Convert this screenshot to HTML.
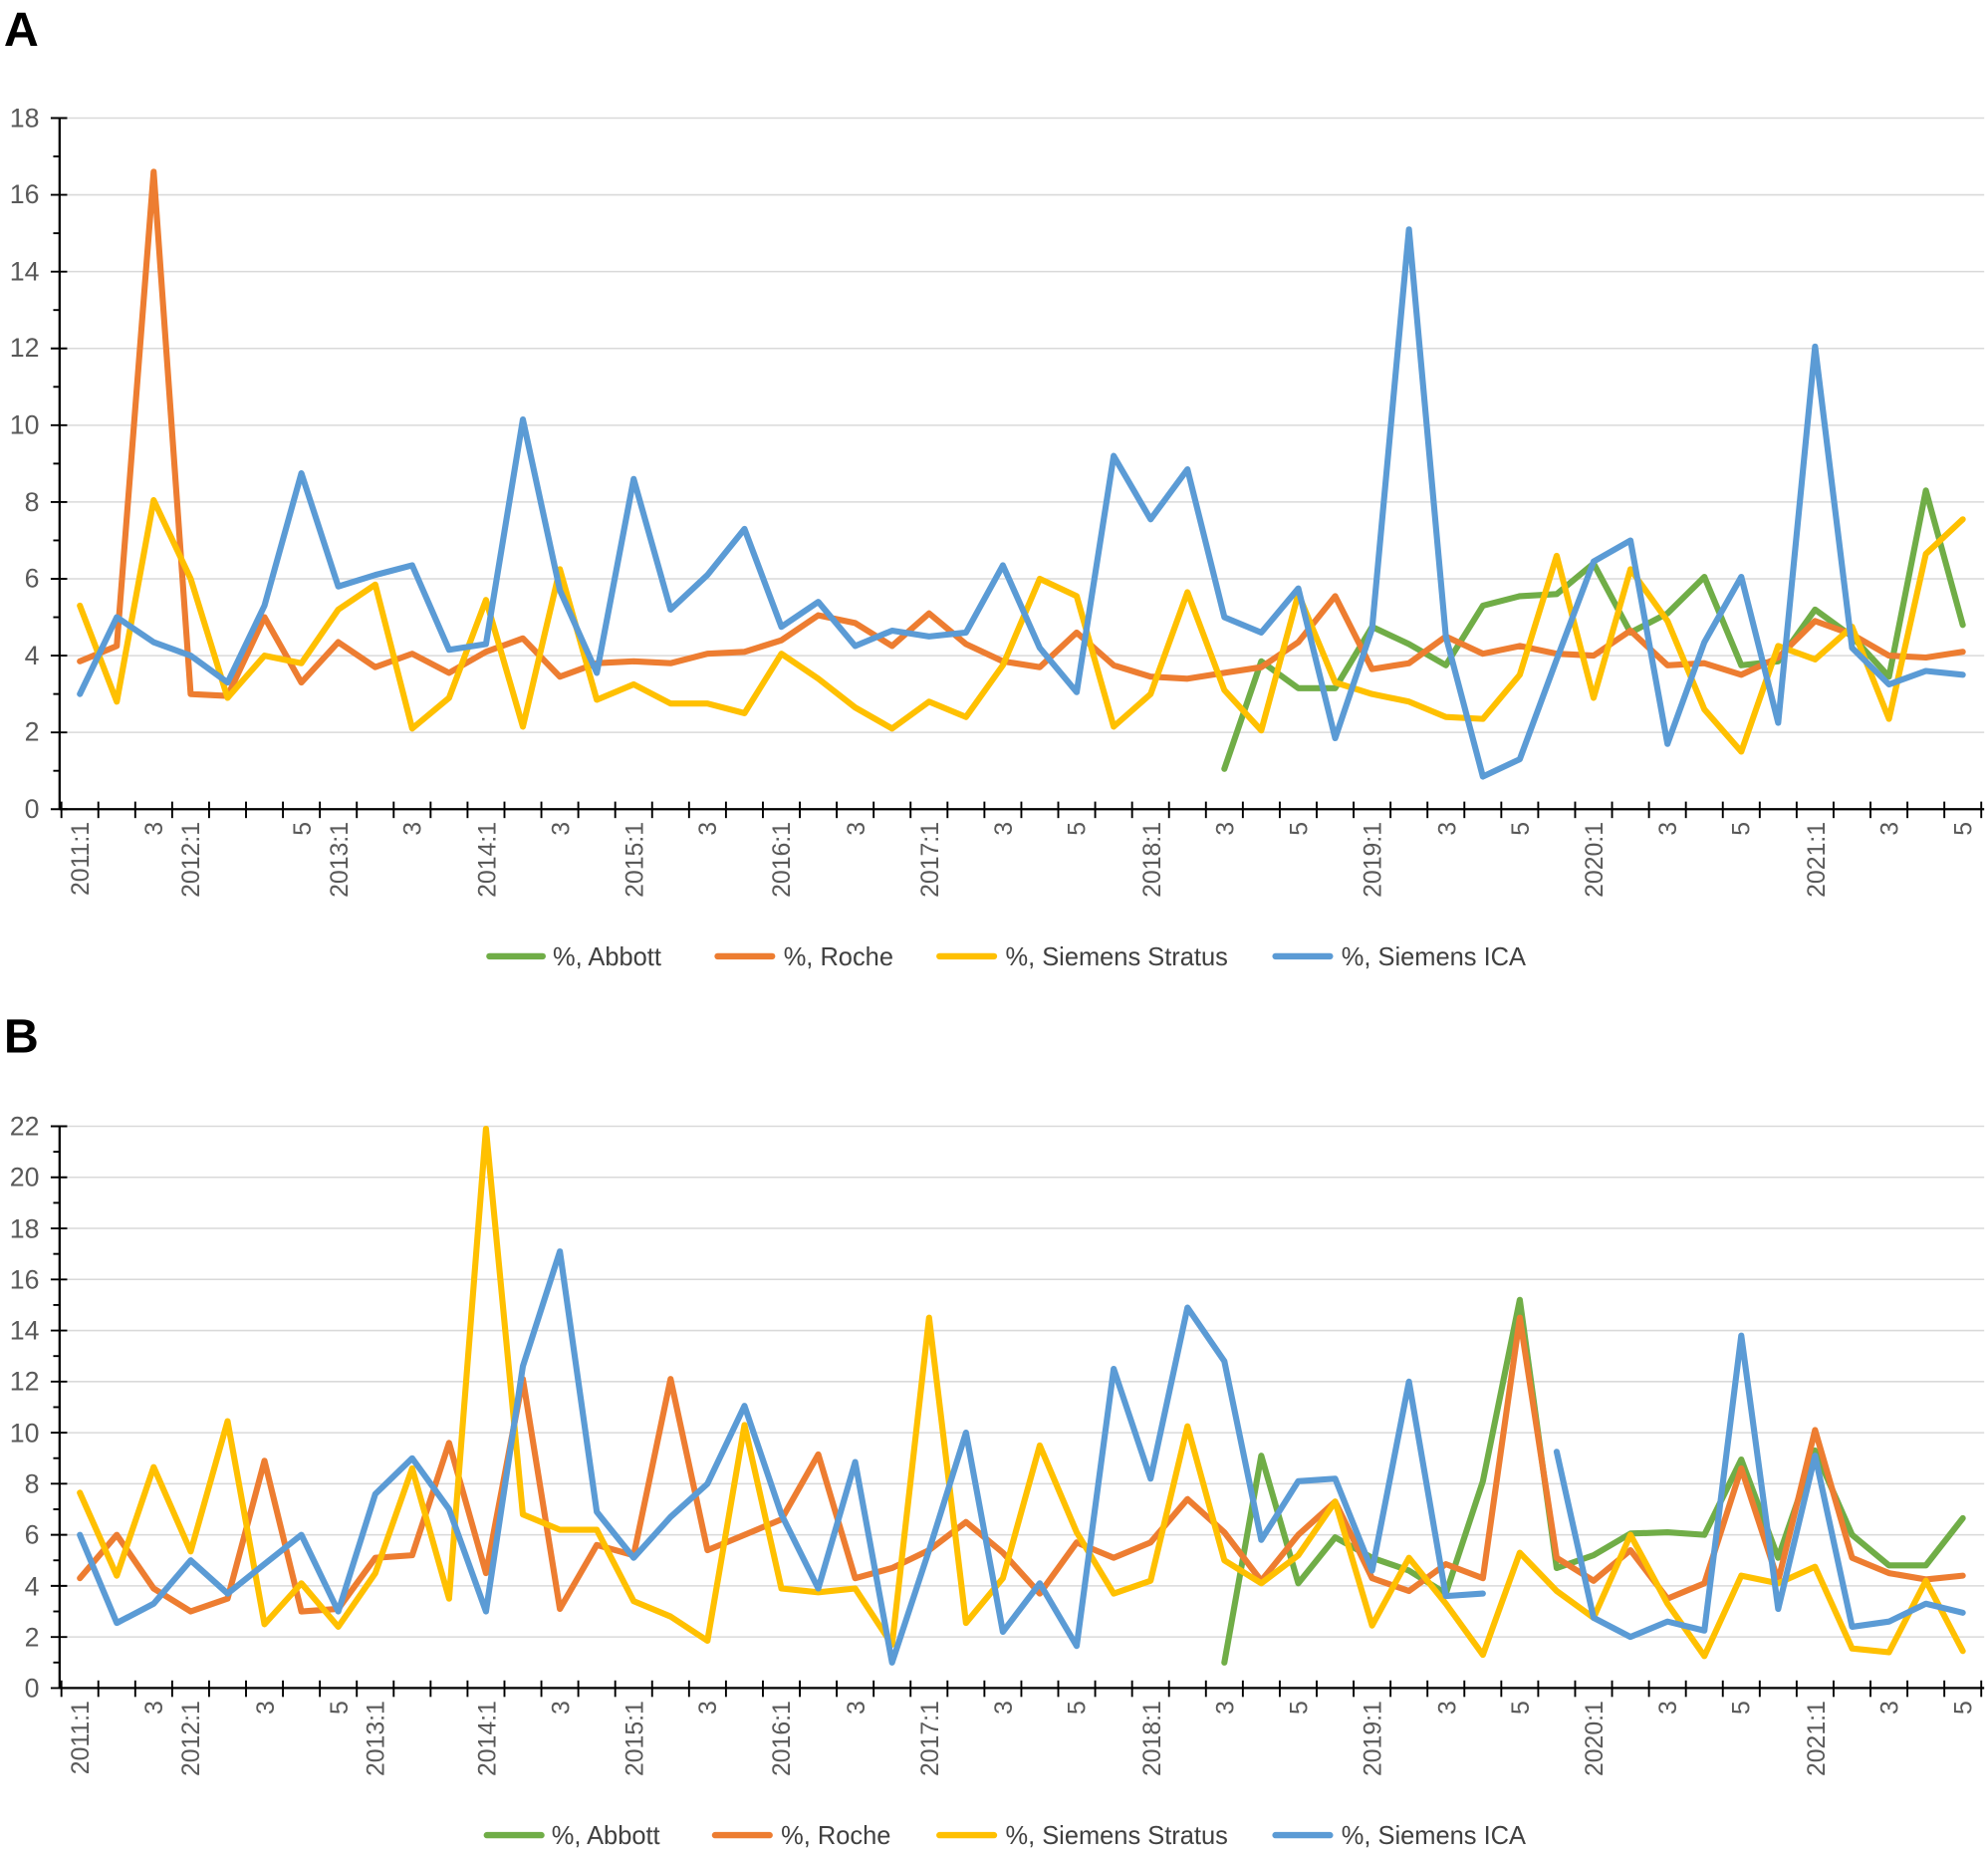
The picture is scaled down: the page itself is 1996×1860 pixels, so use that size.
<!DOCTYPE html>
<html><head><meta charset="utf-8"><style>
html,body{margin:0;padding:0;background:#fff}
svg{display:block}
text{font-family:"Liberation Sans",sans-serif;fill:#595959}
.yl{font-size:21px;text-anchor:end}
.xl{font-size:19.5px;text-anchor:end}
.lg{font-size:20px;fill:#404040}
.big{font-size:38px;font-weight:bold;fill:#000}
</style></head><body>
<svg id="s" width="1996" height="1860" viewBox="0 0 1568 1461" xmlns="http://www.w3.org/2000/svg">
<text class="big" x="3" y="36">A</text>
<text class="big" x="3" y="830">B</text>
<g id="axA"></g><g id="axB"></g>
<g>
<text class="yl" x="31" y="645">0</text><text class="yl" x="31" y="584">2</text><text class="yl" x="31" y="524">4</text><text class="yl" x="31" y="463">6</text><text class="yl" x="31" y="403">8</text><text class="yl" x="31" y="342">10</text><text class="yl" x="31" y="281">12</text><text class="yl" x="31" y="221">14</text><text class="yl" x="31" y="160">16</text><text class="yl" x="31" y="100">18</text>
</g>
<g>
<text class="yl" x="31" y="1338">0</text><text class="yl" x="31" y="1298">2</text><text class="yl" x="31" y="1258">4</text><text class="yl" x="31" y="1217">6</text><text class="yl" x="31" y="1177">8</text><text class="yl" x="31" y="1137">10</text><text class="yl" x="31" y="1096">12</text><text class="yl" x="31" y="1056">14</text><text class="yl" x="31" y="1016">16</text><text class="yl" x="31" y="976">18</text><text class="yl" x="31" y="935">20</text><text class="yl" x="31" y="895">22</text>
</g>
<g>
<text class="xl" transform="translate(70,648) rotate(-90)">2011:1</text>
<text class="xl" transform="translate(128,648) rotate(-90)">3</text>
<text class="xl" transform="translate(157,648) rotate(-90)">2012:1</text>
<text class="xl" transform="translate(245,648) rotate(-90)">5</text>
<text class="xl" transform="translate(274,648) rotate(-90)">2013:1</text>
<text class="xl" transform="translate(332,648) rotate(-90)">3</text>
<text class="xl" transform="translate(391,648) rotate(-90)">2014:1</text>
<text class="xl" transform="translate(449,648) rotate(-90)">3</text>
<text class="xl" transform="translate(507,648) rotate(-90)">2015:1</text>
<text class="xl" transform="translate(565,648) rotate(-90)">3</text>
<text class="xl" transform="translate(623,648) rotate(-90)">2016:1</text>
<text class="xl" transform="translate(682,648) rotate(-90)">3</text>
<text class="xl" transform="translate(740,648) rotate(-90)">2017:1</text>
<text class="xl" transform="translate(798,648) rotate(-90)">3</text>
<text class="xl" transform="translate(856,648) rotate(-90)">5</text>
<text class="xl" transform="translate(915,648) rotate(-90)">2018:1</text>
<text class="xl" transform="translate(973,648) rotate(-90)">3</text>
<text class="xl" transform="translate(1031,648) rotate(-90)">5</text>
<text class="xl" transform="translate(1089,648) rotate(-90)">2019:1</text>
<text class="xl" transform="translate(1148,648) rotate(-90)">3</text>
<text class="xl" transform="translate(1206,648) rotate(-90)">5</text>
<text class="xl" transform="translate(1264,648) rotate(-90)">2020:1</text>
<text class="xl" transform="translate(1322,648) rotate(-90)">3</text>
<text class="xl" transform="translate(1380,648) rotate(-90)">5</text>
<text class="xl" transform="translate(1439,648) rotate(-90)">2021:1</text>
<text class="xl" transform="translate(1497,648) rotate(-90)">3</text>
<text class="xl" transform="translate(1555,648) rotate(-90)">5</text>
</g>
<g>
<text class="xl" transform="translate(70,1341) rotate(-90)">2011:1</text>
<text class="xl" transform="translate(128,1341) rotate(-90)">3</text>
<text class="xl" transform="translate(157,1341) rotate(-90)">2012:1</text>
<text class="xl" transform="translate(216,1341) rotate(-90)">3</text>
<text class="xl" transform="translate(274,1341) rotate(-90)">5</text>
<text class="xl" transform="translate(303,1341) rotate(-90)">2013:1</text>
<text class="xl" transform="translate(391,1341) rotate(-90)">2014:1</text>
<text class="xl" transform="translate(449,1341) rotate(-90)">3</text>
<text class="xl" transform="translate(507,1341) rotate(-90)">2015:1</text>
<text class="xl" transform="translate(565,1341) rotate(-90)">3</text>
<text class="xl" transform="translate(623,1341) rotate(-90)">2016:1</text>
<text class="xl" transform="translate(682,1341) rotate(-90)">3</text>
<text class="xl" transform="translate(740,1341) rotate(-90)">2017:1</text>
<text class="xl" transform="translate(798,1341) rotate(-90)">3</text>
<text class="xl" transform="translate(856,1341) rotate(-90)">5</text>
<text class="xl" transform="translate(915,1341) rotate(-90)">2018:1</text>
<text class="xl" transform="translate(973,1341) rotate(-90)">3</text>
<text class="xl" transform="translate(1031,1341) rotate(-90)">5</text>
<text class="xl" transform="translate(1089,1341) rotate(-90)">2019:1</text>
<text class="xl" transform="translate(1148,1341) rotate(-90)">3</text>
<text class="xl" transform="translate(1206,1341) rotate(-90)">5</text>
<text class="xl" transform="translate(1264,1341) rotate(-90)">2020:1</text>
<text class="xl" transform="translate(1322,1341) rotate(-90)">3</text>
<text class="xl" transform="translate(1380,1341) rotate(-90)">5</text>
<text class="xl" transform="translate(1439,1341) rotate(-90)">2021:1</text>
<text class="xl" transform="translate(1497,1341) rotate(-90)">3</text>
<text class="xl" transform="translate(1555,1341) rotate(-90)">5</text>
</g>
<g id="series"></g>
<g stroke-width="5" stroke-linecap="round">
<line x1="386" y1="754" x2="428" y2="754" stroke="#70ad47"/>
<line x1="566" y1="754" x2="609" y2="754" stroke="#ed7d31"/>
<line x1="741" y1="754" x2="784" y2="754" stroke="#ffc000"/>
<line x1="1006" y1="754" x2="1049" y2="754" stroke="#5b9bd5"/>
<line x1="384" y1="1447" x2="427" y2="1447" stroke="#70ad47"/>
<line x1="564" y1="1447" x2="607" y2="1447" stroke="#ed7d31"/>
<line x1="741" y1="1447" x2="784" y2="1447" stroke="#ffc000"/>
<line x1="1006" y1="1447" x2="1049" y2="1447" stroke="#5b9bd5"/>
</g>
<text class="lg" x="436" y="761">%, Abbott</text>
<text class="lg" x="618" y="761">%, Roche</text>
<text class="lg" x="793" y="761">%, Siemens Stratus</text>
<text class="lg" x="1058" y="761">%, Siemens ICA</text>
<text class="lg" x="435" y="1454">%, Abbott</text>
<text class="lg" x="616" y="1454">%, Roche</text>
<text class="lg" x="793" y="1454">%, Siemens Stratus</text>
<text class="lg" x="1058" y="1454">%, Siemens ICA</text>
</svg>
<script>
var NS="http://www.w3.org/2000/svg";
function el(p,t,a){var e=document.createElementNS(NS,t);for(var k in a)e.setAttribute(k,a[k]);p.appendChild(e);return e;}
var X0=63,DX=29.12;
function axes(g,y0,top,max,step){
  var G=document.getElementById(g);
  var u=(y0-top)/max;
  for(var v=step;v<=max;v+=step){var y=y0-v*u;el(G,"line",{x1:47,x2:1565,y1:y,y2:y,stroke:"#d9d9d9","stroke-width":1.2});}
  el(G,"line",{x1:47,x2:47,y1:top,y2:y0,stroke:"#000","stroke-width":1.8});
  for(var v=0;v<=max;v+=1){var y=y0-v*u;var maj=(v%step==0);el(G,"line",{x1:maj?40:42,x2:maj?53:47,y1:y,y2:y,stroke:"#000","stroke-width":1.5});}
  el(G,"line",{x1:47,x2:1565,y1:y0,y2:y0,stroke:"#000","stroke-width":1.8});
  for(var k=0;k<=52;k++){var x=X0-DX/2+k*DX;el(G,"line",{x1:x,x2:x,y1:y0-6,y2:y0+7,stroke:"#000","stroke-width":1.5});}
}
axes("axA",638,93,18,2);
axes("axB",1331,888,22,2);
function line(y0,u,data,start,col){
  var S=document.getElementById("series");var segs=[[]];
  data.forEach(function(v,i){if(v===null){segs.push([]);return;}segs[segs.length-1].push((X0+(start+i)*DX).toFixed(1)+","+(y0-v*u).toFixed(1));});
  segs.forEach(function(s){if(s.length>1)el(S,"polyline",{points:s.join(" "),fill:"none",stroke:col,"stroke-width":4.8,"stroke-linejoin":"round","stroke-linecap":"round"});});
}
var uA=(638-93)/18,uB=(1331-888)/22;
line(638,uA,[1.05,3.85,3.15,3.15,4.75,4.3,3.75,5.3,5.55,5.6,6.4,4.6,5.1,6.05,3.75,3.85,5.2,4.5,3.45,8.3,4.8],31,"#70ad47");
line(638,uA,[3.85,4.25,16.6,3.0,2.95,5.0,3.3,4.35,3.7,4.05,3.55,4.1,4.45,3.45,3.8,3.85,3.8,4.05,4.1,4.4,5.05,4.85,4.25,5.1,4.3,3.85,3.7,4.6,3.75,3.45,3.4,3.55,3.7,4.35,5.55,3.65,3.8,4.5,4.05,4.25,4.05,4.0,4.65,3.75,3.8,3.5,3.95,4.9,4.55,4.0,3.95,4.1],0,"#ed7d31");
line(638,uA,[5.3,2.8,8.05,6.0,2.9,4.0,3.8,5.2,5.85,2.1,2.9,5.45,2.15,6.25,2.85,3.25,2.75,2.75,2.5,4.05,3.4,2.65,2.1,2.8,2.4,3.75,6.0,5.55,2.15,3.0,5.65,3.1,2.05,5.6,3.3,3.0,2.8,2.4,2.35,3.5,6.6,2.9,6.25,4.9,2.6,1.5,4.25,3.9,4.75,2.35,6.65,7.55],0,"#ffc000");
line(638,uA,[3.0,5.0,4.35,4.0,3.3,5.3,8.75,5.8,6.1,6.35,4.15,4.3,10.15,5.7,3.55,8.6,5.2,6.1,7.3,4.75,5.4,4.25,4.65,4.5,4.6,6.35,4.2,3.05,9.2,7.55,8.85,5.0,4.6,5.75,1.85,4.7,15.1,4.5,0.85,1.3,3.9,6.45,7.0,1.7,4.35,6.05,2.25,12.05,4.2,3.25,3.6,3.5],0,"#5b9bd5");
line(1331,uB,[1.0,9.1,4.1,5.9,5.1,4.6,3.7,8.1,15.2,4.7,5.2,6.05,6.1,6.0,8.95,5.1,9.3,6.0,4.8,4.8,6.65],31,"#70ad47");
line(1331,uB,[4.3,6.0,3.9,3.0,3.5,8.9,3.0,3.1,5.1,5.2,9.6,4.5,12.1,3.1,5.6,5.2,12.1,5.4,6.0,6.6,9.15,4.3,4.7,5.4,6.5,5.3,3.7,5.7,5.1,5.7,7.4,6.1,4.2,6.0,7.3,4.3,3.8,4.85,4.3,14.5,5.1,4.2,5.4,3.5,4.1,8.6,4.2,10.1,5.1,4.5,4.25,4.4],0,"#ed7d31");
line(1331,uB,[7.65,4.4,8.65,5.35,10.45,2.5,4.1,2.4,4.5,8.6,3.5,21.9,6.8,6.2,6.2,3.4,2.8,1.85,10.3,3.9,3.75,3.9,1.7,14.5,2.55,4.3,9.5,6.1,3.7,4.2,10.25,5.0,4.1,5.2,7.3,2.45,5.1,3.3,1.3,5.3,3.8,2.75,6.0,3.3,1.25,4.4,4.1,4.75,1.55,1.4,4.2,1.45],0,"#ffc000");
line(1331,uB,[6.0,2.55,3.3,5.0,3.7,4.85,6.0,3.0,7.6,9.0,7.0,3.0,12.6,17.1,6.9,5.1,6.7,8.0,11.05,6.8,3.9,8.85,1.0,5.4,10.0,2.2,4.1,1.65,12.5,8.2,14.9,12.8,5.8,8.1,8.2,4.6,12.0,3.6,3.7,null,9.25,2.75,2.0,2.6,2.25,13.8,3.1,9.1,2.4,2.6,3.3,2.95],0,"#5b9bd5");
</script>
</body></html>
